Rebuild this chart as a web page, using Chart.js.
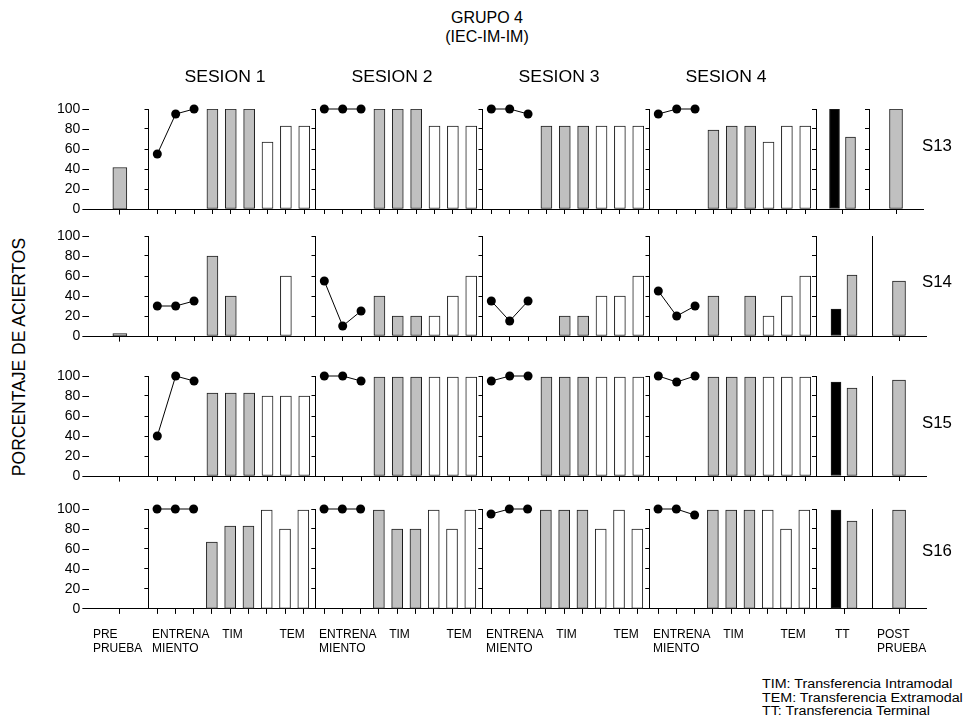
<!DOCTYPE html>
<html>
<head>
<meta charset="utf-8">
<title>GRUPO 4</title>
<script src="https://cdn.jsdelivr.net/npm/chart.js@4.4.1/dist/chart.umd.min.js"></script>
<style>
  html, body { margin: 0; padding: 0; background: #fff; }
  body { width: 974px; height: 719px; position: relative; overflow: hidden; font-family: "Liberation Sans", Arial, sans-serif; color: #000; }
  .panel { position: absolute; }
  .txt { position: absolute; white-space: nowrap; line-height: 1; }
</style>
</head>
<body>
<script>
// ---- data ----
const subjects = ['S13', 'S14', 'S15', 'S16'];
const sessionTitles = ['SESION 1', 'SESION 2', 'SESION 3', 'SESION 4'];
const yTickValues = [0, 20, 40, 60, 80, 100];
const preLabel = ['PRE', 'PRUEBA'];
const trainLabel = ['ENTRENA', 'MIENTO'];
const timLabel = 'TIM';
const temLabel = 'TEM';
const ttLabel = 'TT';
const postLabel = ['POST', 'PRUEBA'];
const legendLines = ['TIM: Transferencia Intramodal', 'TEM: Transferencia Extramodal', 'TT: Transferencia Terminal'];

const preTest = [42, 3, 0, 0];
const postTest = [100, 55, 96, 99];
const ttFirst = [100, 27, 94, 99];
const ttSecond = [72, 61, 88, 88];

// one inner list per session: 3 training trials, 3 TIM, 3 TEM
const trainS13 = [[55, 95, 100], [100, 100, 100], [100, 100, 95], [95, 100, 100]];
const timS13 = [[100, 100, 100], [100, 100, 100], [83, 83, 83], [79, 83, 83]];
const temS13 = [[67, 83, 83], [83, 83, 83], [83, 83, 83], [67, 83, 83]];

const trainS14 = [[30, 30, 35], [55, 10, 25], [35, 15, 35], [45, 20, 30]];
const timS14 = [[80, 40, 0], [40, 20, 20], [0, 20, 20], [40, 0, 40]];
const temS14 = [[0, 60, 0], [20, 40, 60], [40, 40, 60], [20, 40, 60]];

const trainS15 = [[40, 100, 95], [100, 100, 95], [95, 100, 100], [100, 94, 100]];
const timS15 = [[83, 83, 83], [99, 99, 99], [99, 99, 99], [99, 99, 99]];
const temS15 = [[80, 80, 80], [99, 99, 99], [99, 99, 99], [99, 99, 99]];

const trainS16 = [[100, 100, 100], [100, 100, 100], [95, 100, 100], [100, 100, 94]];
const timS16 = [[67, 83, 83], [99, 80, 80], [99, 99, 99], [99, 99, 99]];
const temS16 = [[99, 80, 99], [99, 80, 99], [80, 99, 80], [99, 80, 99]];

const trainAll = [trainS13, trainS14, trainS15, trainS16];
const timAll = [timS13, timS14, timS15, timS16];
const temAll = [temS13, temS14, temS15, temS16];

// ---- layout ----
const FONT = '"Liberation Sans", Arial, sans-serif';
const PLOT_H = 100;
const rowTop = [109, 236, 376, 509];
const rowEdges = [
  [89, 148, 315, 482, 649, 816, 869, 923],
  [89, 148, 315, 482, 649, 816, 872, 926],
  [89, 148, 315, 482, 649, 816, 872, 926],
  [89, 148, 315, 482, 649, 816, 872, 926]
];
const GRAY = '#c0c0c0';
const EDGE = '#1e1e1e';

function barSet(values, color, thickness, startX, extra) {
  return Object.assign({
    type: 'bar',
    data: values.map((v, i) => ({ x: startX + i, y: v })),
    backgroundColor: color,
    borderColor: EDGE,
    borderWidth: 1,
    borderSkipped: false,
    barThickness: thickness,
    grouped: false
  }, extra || {});
}

function lineSet(values) {
  return {
    type: 'line',
    data: values.map((v, i) => ({ x: i, y: v })),
    borderColor: '#000',
    borderWidth: 1,
    pointRadius: 4.5,
    pointBackgroundColor: '#000',
    pointBorderWidth: 0,
    tension: 0,
    fill: false,
    clip: false
  };
}

function makePanel(cfg) {
  const wrap = document.createElement('div');
  wrap.className = 'panel';
  wrap.style.left = (cfg.left - 40) + 'px';
  wrap.style.top = (cfg.top - 20) + 'px';
  wrap.style.width = (cfg.right - cfg.left + 80) + 'px';
  wrap.style.height = (PLOT_H + 80) + 'px';
  const canvas = document.createElement('canvas');
  wrap.appendChild(canvas);
  document.body.appendChild(wrap);

  const marks = cfg.marks;
  const labelTicks = cfg.labels || [];
  const labelMap = new Map(labelTicks.map(l => [l.at, l.text]));

  const chart = new Chart(canvas, {
    type: 'bar',
    data: { datasets: cfg.datasets },
    options: {
      responsive: true,
      maintainAspectRatio: false,
      animation: false,
      events: [],
      layout: { padding: { top: 8, left: 0, right: 12, bottom: 0 } },
      plugins: { legend: { display: false }, tooltip: { enabled: false } },
      scales: {
        x: {
          type: 'linear',
          min: cfg.xMin,
          max: cfg.xMax,
          offset: false,
          bounds: 'data',
          // label anchors first, tick marks last (keeps the right padding small)
          afterBuildTicks: axis => {
            axis.ticks = labelTicks.map(l => ({ value: l.at })).concat(marks.map(v => ({ value: v })));
          },
          grid: {
            drawOnChartArea: false,
            offset: false,
            tickLength: 5,
            tickWidth: 1,
            tickColor: c => (c.tick && labelMap.has(c.tick.value)) ? 'rgba(0,0,0,0)' : '#000'
          },
          border: { display: true, color: '#000', width: 1 },
          ticks: {
            display: labelTicks.length > 0,
            autoSkip: false,
            maxRotation: 0,
            minRotation: 0,
            align: 'start',
            padding: 14,
            color: '#000',
            font: { family: FONT, size: 12, lineHeight: 1.17 },
            callback: v => labelMap.has(v) ? labelMap.get(v) : ''
          }
        },
        y: {
          min: 0,
          max: 100,
          afterBuildTicks: axis => { axis.ticks = yTickValues.map(v => ({ value: v })); },
          grid: {
            drawOnChartArea: false,
            drawTicks: cfg.yTickLen > 0,
            tickLength: cfg.yTickLen,
            color: '#000'
          },
          border: { display: cfg.yBorder, color: '#000', width: 1 },
          ticks: {
            display: !!cfg.yLabels,
            padding: 2,
            color: '#000',
            font: { family: FONT, size: 14 }
          }
        }
      }
    }
  });

  // place the canvas so that the plot area lands on the panel box;
  // axis paddings depend a little on the size, so repeat a few times
  for (let k = 0; k < 4; k++) {
    const ca = chart.chartArea;
    const insetL = ca.left, insetT = ca.top;
    const insetR = wrap.clientWidth - ca.right, insetB = wrap.clientHeight - ca.bottom;
    const w = Math.round(cfg.right - cfg.left + insetL + insetR);
    const h = Math.round(PLOT_H + insetT + insetB);
    wrap.style.width = w + 'px';
    wrap.style.height = h + 'px';
    chart.resize();
  }
  const ca = chart.chartArea;
  wrap.style.left = Math.round(cfg.left - ca.left) + 'px';
  wrap.style.top = Math.round(cfg.top - ca.top) + 'px';
  return chart;
}

subjects.forEach((subj, r) => {
  const e = rowEdges[r];
  const top = rowTop[r];
  const last = r === subjects.length - 1;

  makePanel({
    left: e[0], right: e[1], top, xMin: -0.52, xMax: 0.48, marks: [0],
    yLabels: true, yBorder: false, yTickLen: 7,
    labels: last ? [{ at: -0.46, text: preLabel }] : [],
    datasets: [barSet([preTest[r]], GRAY, 14, 0)]
  });

  for (let s = 0; s < 4; s++) {
    makePanel({
      left: e[1 + s], right: e[2 + s], top, xMin: -0.48, xMax: 8.64,
      marks: [0, 1, 2, 3, 4, 5, 6, 7, 8],
      yLabels: false, yBorder: true, yTickLen: 4,
      labels: last ? [{ at: -0.27, text: trainLabel }, { at: 3.56, text: timLabel }, { at: 6.7, text: temLabel }] : [],
      datasets: [
        lineSet(trainAll[r][s]),
        barSet(timAll[r][s], GRAY, 11, 3),
        barSet(temAll[r][s], '#ffffff', 11, 6)
      ]
    });
  }

  makePanel({
    left: e[5], right: e[6], top, xMin: -0.5, xMax: 0.5, marks: [0],
    yLabels: false, yBorder: true, yTickLen: 4,
    labels: last ? [{ at: -0.16, text: ttLabel }] : [],
    datasets: [
      barSet([ttFirst[r]], '#000000', 16, 0, { grouped: true, maxBarThickness: 10 }),
      barSet([ttSecond[r]], GRAY, 16, 0, { grouped: true, maxBarThickness: 10 })
    ]
  });

  makePanel({
    left: e[6], right: e[7], top, xMin: -0.5, xMax: 0.5, marks: [0],
    yLabels: false, yBorder: true, yTickLen: r === 0 ? 4 : 0,
    labels: last ? [{ at: -0.41, text: postLabel }] : [],
    datasets: [barSet([postTest[r]], GRAY, 13, 0)]
  });
});

// ---- text ----
function addText(str, x, y, size, opts) {
  opts = opts || {};
  const d = document.createElement('div');
  d.className = 'txt';
  d.textContent = str;
  d.style.fontSize = size + 'px';
  d.style.left = x + 'px';
  d.style.top = y + 'px';
  const sx = opts.sx || 1;
  if (opts.align === 'left') {
    d.style.transformOrigin = '0 50%';
    d.style.transform = 'translate(0, -50%) scaleX(' + sx + ')';
  } else {
    d.style.transformOrigin = '50% 50%';
    d.style.transform = 'translate(-50%, -50%)' + (opts.rotate ? ' rotate(' + opts.rotate + 'deg)' : '') + ' scaleX(' + sx + ')';
  }
  document.body.appendChild(d);
}

addText('GRUPO 4', 487, 18, 16);
addText('(IEC-IM-IM)', 487, 37, 16);
sessionTitles.forEach((t, s) => {
  const e = rowEdges[0];
  addText(t, (e[1 + s] + e[2 + s]) / 2 - 6.5, 77, 16, { sx: 1.1 });
});
const rowLabelY = [146, 282, 423, 551];
subjects.forEach((subj, r) => addText(subj, 922, rowLabelY[r], 16, { align: 'left', sx: 1.05 }));
addText('PORCENTAJE DE ACIERTOS', 20, 357, 17.5, { rotate: -90 });
legendLines.forEach((t, i) => addText(t, 762, 684 + i * 13.5, 12, { align: 'left', sx: 1.19 }));
</script>
</body>
</html>
